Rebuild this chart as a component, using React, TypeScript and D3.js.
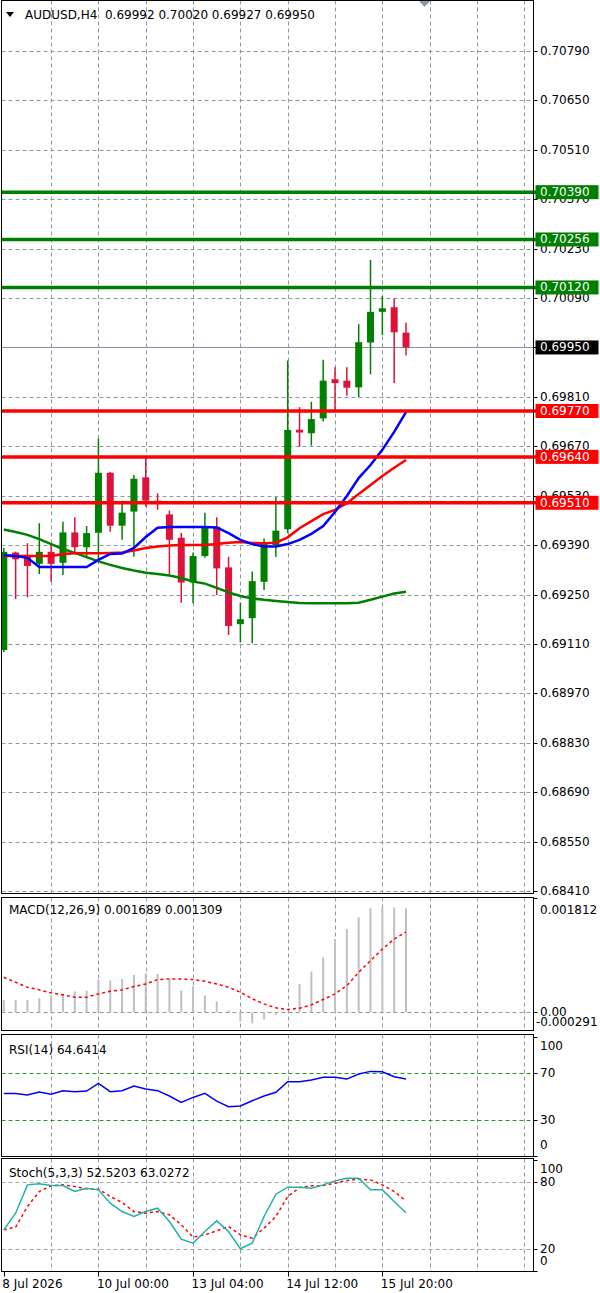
import React from "react";
import * as d3 from "d3";

// ---------- DATA ----------
const symbol = "AUDUSD,H4";
const headerOHLC = ["0.69992", "0.70020", "0.69927", "0.69950"];

const opens = [0.69093, 0.69369, 0.69359, 0.69337, 0.69371, 0.6934, 0.69426, 0.69384, 0.69425, 0.69595, 0.69445, 0.69485, 0.69582, 0.69516, 0.69477, 0.69411, 0.69284, 0.69359, 0.69442, 0.69327, 0.69166, 0.69183, 0.69286, 0.6939, 0.69435, 0.69717, 0.69707, 0.69749, 0.6986, 0.69856, 0.69837, 0.69964, 0.70051, 0.70064, 0.69992];
const highs = [0.69382, 0.69371, 0.69395, 0.69452, 0.6939, 0.69456, 0.69469, 0.69444, 0.69692, 0.69597, 0.69516, 0.69589, 0.69638, 0.69537, 0.69488, 0.69424, 0.69369, 0.69482, 0.69469, 0.69357, 0.69227, 0.69315, 0.69409, 0.69526, 0.69913, 0.69781, 0.69796, 0.69915, 0.69894, 0.69894, 0.70016, 0.70198, 0.70096, 0.70089, 0.7002];
const lows = [0.69087, 0.69237, 0.69242, 0.69308, 0.69286, 0.69305, 0.69367, 0.69353, 0.69348, 0.69428, 0.69405, 0.69357, 0.69499, 0.6949, 0.69303, 0.69227, 0.69225, 0.69354, 0.69249, 0.69135, 0.69114, 0.69112, 0.69263, 0.69356, 0.69424, 0.69669, 0.69672, 0.6974, 0.69771, 0.69813, 0.69809, 0.69874, 0.69985, 0.69849, 0.69927];
const closes = [0.69371, 0.6935, 0.69331, 0.69371, 0.69337, 0.69426, 0.69384, 0.69424, 0.69595, 0.69445, 0.69482, 0.69578, 0.69516, 0.69511, 0.69405, 0.69284, 0.69359, 0.69441, 0.69324, 0.69161, 0.6918, 0.69288, 0.69393, 0.69431, 0.69716, 0.69709, 0.69747, 0.69856, 0.69849, 0.69836, 0.69965, 0.70051, 0.70061, 0.69993, 0.6995];

const maBlue = [0.69362, 0.69359, 0.69354, 0.69328, 0.69328, 0.69328, 0.69328, 0.69328, 0.69348, 0.69365, 0.69366, 0.69382, 0.69413, 0.69439, 0.69441, 0.69441, 0.69441, 0.69441, 0.6944, 0.69424, 0.69405, 0.69393, 0.69386, 0.69386, 0.69393, 0.69405, 0.69422, 0.69444, 0.69484, 0.69529, 0.6958, 0.69617, 0.6966, 0.69711, 0.69767];
const maRed = [0.69359, 0.69359, 0.69359, 0.69359, 0.69359, 0.69365, 0.69367, 0.69367, 0.69367, 0.69368, 0.69369, 0.69375, 0.69382, 0.69386, 0.69389, 0.6939, 0.6939, 0.6939, 0.69393, 0.69397, 0.69399, 0.69396, 0.69395, 0.69397, 0.69412, 0.69438, 0.69458, 0.69478, 0.6949, 0.69509, 0.69535, 0.6956, 0.69586, 0.69609, 0.69631];
const maGreen = [0.69434, 0.69427, 0.69419, 0.69407, 0.69393, 0.69379, 0.69368, 0.69356, 0.69344, 0.69334, 0.69325, 0.69318, 0.69312, 0.69308, 0.69304, 0.69297, 0.69287, 0.69281, 0.69269, 0.69256, 0.69246, 0.69239, 0.69235, 0.69232, 0.69229, 0.69226, 0.69225, 0.69225, 0.69225, 0.69225, 0.69227, 0.69235, 0.69244, 0.69253, 0.69258];

const greenLevels = [0.7039, 0.70256, 0.7012];
const redLevels = [0.6977, 0.6964, 0.6951];
const lastPrice = 0.6995;
const priceTicks = [0.7079, 0.7065, 0.7051, 0.7037, 0.7023, 0.7009, 0.6995, 0.6981, 0.6967, 0.6953, 0.6939, 0.6925, 0.6911, 0.6897, 0.6883, 0.6869, 0.6855, 0.6841];

const macdTitle = "MACD(12,26,9) 0.001689 0.001309";
const macdHist = [0.0002, 0.0002, 0.0002, 0.000227, 0.000271, 0.000298, 0.000336, 0.000347, 0.000531, 0.000514, 0.000541, 0.000606, 0.000633, 0.000623, 0.000531, 0.000352, 0.000422, 0.000271, 0.000173, 0.000027, -0.000152, -0.000179, -0.000119, -0.000043, -0.000011, 0.00046, 0.000661, 0.000893, 0.001191, 0.001354, 0.001543, 0.001695, 0.001705, 0.001705, 0.001689];
const macdSignal = [0.000568, 0.000487, 0.000406, 0.000363, 0.000314, 0.000282, 0.000244, 0.000244, 0.000298, 0.000341, 0.000363, 0.000417, 0.00046, 0.000531, 0.000541, 0.000541, 0.000531, 0.000504, 0.00046, 0.000406, 0.000325, 0.000217, 0.000135, 0.00007, 0.000043, 0.000065, 0.000119, 0.000206, 0.000298, 0.000433, 0.00065, 0.000839, 0.001029, 0.001191, 0.001309];
const macdMax = 0.001812;
const macdMin = -0.000291;

const rsiTitle = "RSI(14) 64.6414";
const rsiValues = [52.5, 52.5, 51.1, 53.7, 51.7, 54.8, 53.9, 54.5, 61.0, 53.9, 54.8, 58.7, 56.2, 54.8, 50.3, 44.9, 49.1, 52.5, 46.0, 41.3, 41.8, 46.3, 50.3, 53.4, 62.4, 62.4, 63.8, 66.1, 66.1, 64.6, 68.9, 71.1, 70.8, 66.6, 64.64];
const rsiLevels = [70, 30];
const rsiLabels = [100, 70, 30, 0];

const stochTitle = "Stoch(5,3,3) 52.5203 63.0272";
const stochMain = [37.1, 52.1, 77.6, 78.5, 77.0, 77.0, 71.6, 74.6, 73.1, 61.1, 53.6, 49.1, 53.6, 56.6, 44.6, 28.7, 25.1, 35.6, 45.2, 35.6, 20.0, 25.1, 49.1, 69.2, 75.5, 75.5, 74.6, 77.6, 81.2, 83.6, 83.6, 73.1, 73.1, 62.6, 52.52];
const stochSignal = [37.1, 39.5, 58.1, 71.6, 76.7, 77.6, 76.1, 74.0, 73.7, 67.1, 61.7, 53.6, 52.1, 53.6, 50.6, 41.6, 30.5, 32.6, 36.2, 40.1, 32.6, 29.6, 38.6, 49.1, 67.1, 75.2, 76.7, 77.0, 79.1, 81.5, 82.7, 82.1, 77.6, 71.6, 63.03];
const stochLevels = [80, 20];
const stochLabels = [100, 80, 20, 0];

const dateLabels = ["8 Jul 2026", "10 Jul 00:00", "13 Jul 04:00", "14 Jul 12:00", "15 Jul 20:00"];
const dateBarIndex = [0, 8, 16, 24, 32];

// ---------- STYLE ----------
const FONT = "'DejaVu Sans', Verdana, sans-serif";
const FS = 12;
const GRID = "#8c9aa8";
const BULL = "#008000";
const BEAR = "#dc143c";

export default function App() {
  const L = 1.5;
  const R = 533.5;
  const main = { top: 0.5, bottom: 893.5 };
  const macdP = { top: 897.5, bottom: 1030.5 };
  const rsiP = { top: 1034.5, bottom: 1156.5 };
  const stoP = { top: 1158.5, bottom: 1271.5 };

  const n = closes.length;
  const x = d3.scaleLinear().domain([0, n - 1]).range([3.8, 406]);
  const y = d3.scaleLinear().domain([0.6841, 0.7079]).range([891, 51]);
  const yM = d3.scaleLinear().domain([macdMin, macdMax]).range([1030, 901]);
  const yR = d3.scaleLinear().domain([0, 100]).range([1155.5, 1037.2]);
  const yS = d3.scaleLinear().domain([0, 100]).range([1271, 1160]);

  const gridIdx = d3.range(4, 60, 4).filter((i) => x(i) < R - 2);
  const idx = d3.range(n);

  const lineOf = (sc: d3.ScaleLinear<number, number>) =>
    d3.line<number>().x((_, i) => x(i)).y((d) => sc(d));

  const vGrid = (p: { top: number; bottom: number }, key: string) =>
    gridIdx.map((i) => (
      <line key={key + i} x1={Math.round(x(i)) + 0.5} x2={Math.round(x(i)) + 0.5} y1={p.top} y2={p.bottom}
        stroke={GRID} strokeDasharray="4,3" strokeWidth={1} />
    ));

  const frame = (p: { top: number; bottom: number }, key: string) => (
    <rect key={key} x={L} y={p.top} width={R - L} height={p.bottom - p.top} fill="none" stroke="#000" strokeWidth={1} />
  );

  const fmt5 = d3.format(".5f");

  const levelBox = (v: number, color: string, key: string) => {
    const yy = y(v);
    return (
      <g key={key}>
        <line x1={L} x2={536} y1={yy} y2={yy} stroke={color} strokeWidth={3.5} />
        <rect x={535.5} y={yy - 7} width={63} height={14} fill={color} />
        <text x={540} y={yy} dominantBaseline="central" fill="#fff" fontSize={FS} fontFamily={FONT}>{fmt5(v)}</text>
      </g>
    );
  };

  return (
    <svg width={600} height={1293} style={{ position: "absolute", left: 0, top: 0, background: "#fff" }}>
      <defs>
        <clipPath id="clipMain"><rect x={L} y={main.top} width={R - L} height={main.bottom - main.top} /></clipPath>
        <clipPath id="clipMacd"><rect x={L} y={macdP.top} width={R - L} height={macdP.bottom - macdP.top} /></clipPath>
        <clipPath id="clipRsi"><rect x={L} y={rsiP.top} width={R - L} height={rsiP.bottom - rsiP.top} /></clipPath>
        <clipPath id="clipSto"><rect x={L} y={stoP.top} width={R - L} height={stoP.bottom - stoP.top} /></clipPath>
      </defs>

      {/* ===== MAIN PANEL ===== */}
      {vGrid(main, "mv")}
      {priceTicks.map((t) => (
        <line key={"hg" + t} x1={L} x2={R} y1={Math.round(y(t)) + 0.5} y2={Math.round(y(t)) + 0.5}
          stroke={GRID} strokeDasharray="4,3" strokeWidth={1} />
      ))}
      {priceTicks.map((t) => (
        <g key={"pt" + t}>
          <line x1={R} x2={R + 4} y1={Math.round(y(t)) + 0.5} y2={Math.round(y(t)) + 0.5} stroke="#000" />
          <text x={540} y={y(t)} dominantBaseline="central" fontSize={FS} fontFamily={FONT} fill="#000">{fmt5(t)}</text>
        </g>
      ))}

      {/* bid line */}
      <line x1={L} x2={R} y1={Math.round(y(lastPrice)) + 0.5} y2={Math.round(y(lastPrice)) + 0.5} stroke="#8493a3" strokeWidth={1} />

      <g clipPath="url(#clipMain)">
        {idx.map((i) => {
          const o = opens[i], c = closes[i];
          const col = c >= o ? BULL : BEAR;
          const top = y(Math.max(o, c));
          const h = Math.max(1.5, Math.abs(y(o) - y(c)));
          return (
            <g key={"c" + i}>
              <line x1={x(i)} x2={x(i)} y1={y(highs[i])} y2={y(lows[i])} stroke={col} strokeWidth={1.5} />
              <rect x={x(i) - 3.5} y={top} width={7} height={h} fill={col} />
            </g>
          );
        })}
        <path d={lineOf(y)(maGreen) || ""} fill="none" stroke="#008000" strokeWidth={2.5} />
        <path d={lineOf(y)(maRed) || ""} fill="none" stroke="#ff0000" strokeWidth={2.5} />
        <path d={lineOf(y)(maBlue) || ""} fill="none" stroke="#0000ff" strokeWidth={2.5} />
      </g>

      {greenLevels.map((v) => levelBox(v, "#008000", "gl" + v))}
      {redLevels.map((v) => levelBox(v, "#ff0000", "rl" + v))}

      {/* last price box */}
      <rect x={535.5} y={y(lastPrice) - 7} width={63} height={14} fill="#000" />
      <text x={540} y={y(lastPrice)} dominantBaseline="central" fill="#fff" fontSize={FS} fontFamily={FONT}>{fmt5(lastPrice)}</text>

      {/* header */}
      <path d="M6,12 L14,12 L10,17 Z" fill="#000" />
      <text x={25} y={15} dominantBaseline="central" fontSize={FS} fontFamily={FONT} fill="#000" style={{ whiteSpace: "pre" }}>
        {symbol + "  " + headerOHLC.join(" ")}
      </text>
      <path d="M418,0 L431,0 L424.5,7 Z" fill="#8c9aa8" />

      {frame(main, "fm")}

      {/* ===== MACD ===== */}
      {vGrid(macdP, "macv")}
      <line x1={L} x2={R} y1={Math.round(yM(0)) + 0.5} y2={Math.round(yM(0)) + 0.5} stroke={GRID} strokeDasharray="4,3" />
      <g clipPath="url(#clipMacd)">
        {macdHist.map((v, i) => (
          <line key={"mh" + i} x1={x(i)} x2={x(i)} y1={yM(0)} y2={yM(v)} stroke="#c0c0c0" strokeWidth={2} />
        ))}
        <path d={lineOf(yM)(macdSignal) || ""} fill="none" stroke="#ff0000" strokeWidth={1.5} strokeDasharray="3,3" />
      </g>
      <text x={9} y={910} dominantBaseline="central" fontSize={FS} fontFamily={FONT} fill="#000">{macdTitle}</text>
      <text x={540} y={910} dominantBaseline="central" fontSize={FS} fontFamily={FONT} fill="#000">{macdMax.toFixed(6)}</text>
      <text x={540} y={yM(0)} dominantBaseline="central" fontSize={FS} fontFamily={FONT} fill="#000">0.00</text>
      <text x={536} y={1022} dominantBaseline="central" fontSize={FS} fontFamily={FONT} fill="#000">{macdMin.toFixed(6)}</text>
      <line x1={R} x2={R + 4} y1={macdP.top + 1} y2={macdP.top + 1} stroke="#000" />
      <line x1={R} x2={R + 4} y1={Math.round(yM(0)) + 0.5} y2={Math.round(yM(0)) + 0.5} stroke="#000" />
      {frame(macdP, "fmacd")}

      {/* ===== RSI ===== */}
      {vGrid(rsiP, "rv")}
      {rsiLevels.map((lv) => (
        <line key={"rl" + lv} x1={L} x2={R} y1={Math.round(yR(lv)) + 0.5} y2={Math.round(yR(lv)) + 0.5}
          stroke="#1f9a1f" strokeDasharray="4,3" strokeWidth={1} />
      ))}
      <g clipPath="url(#clipRsi)">
        <path d={lineOf(yR)(rsiValues) || ""} fill="none" stroke="#0000ff" strokeWidth={1.5} />
      </g>
      <text x={9} y={1050} dominantBaseline="central" fontSize={FS} fontFamily={FONT} fill="#000">{rsiTitle}</text>
      {rsiLabels.map((lv) => {
        const yy = lv === 100 ? 1046 : lv === 0 ? 1145 : yR(lv);
        return (
          <g key={"rlab" + lv}>
            <line x1={R} x2={R + 4} y1={Math.round(yR(lv)) + 0.5} y2={Math.round(yR(lv)) + 0.5} stroke="#000" />
            <text x={540} y={yy} dominantBaseline="central" fontSize={FS} fontFamily={FONT} fill="#000">{lv}</text>
          </g>
        );
      })}
      {frame(rsiP, "frsi")}

      {/* ===== STOCH ===== */}
      {vGrid(stoP, "sv")}
      {stochLevels.map((lv) => (
        <line key={"sl" + lv} x1={L} x2={R} y1={Math.round(yS(lv)) + 0.5} y2={Math.round(yS(lv)) + 0.5}
          stroke="#a8a8a8" strokeDasharray="4,3" strokeWidth={1} />
      ))}
      <g clipPath="url(#clipSto)">
        <path d={lineOf(yS)(stochSignal) || ""} fill="none" stroke="#ff0000" strokeWidth={1.5} strokeDasharray="3,3" />
        <path d={lineOf(yS)(stochMain) || ""} fill="none" stroke="#20b2aa" strokeWidth={1.5} />
      </g>
      <text x={9} y={1173} dominantBaseline="central" fontSize={FS} fontFamily={FONT} fill="#000">{stochTitle}</text>
      {stochLabels.map((lv) => {
        const yy = lv === 100 ? 1169 : lv === 0 ? 1261 : yS(lv);
        return (
          <g key={"slab" + lv}>
            <line x1={R} x2={R + 4} y1={Math.round(yS(lv)) + 0.5} y2={Math.round(yS(lv)) + 0.5} stroke="#000" />
            <text x={540} y={yy} dominantBaseline="central" fontSize={FS} fontFamily={FONT} fill="#000">{lv}</text>
          </g>
        );
      })}
      {frame(stoP, "fsto")}

      {/* ===== TIME AXIS ===== */}
      {dateLabels.map((lab, k) => {
        const xi = x(dateBarIndex[k]);
        return (
          <g key={"d" + k}>
            <line x1={Math.round(xi) + 0.5} x2={Math.round(xi) + 0.5} y1={stoP.bottom} y2={stoP.bottom + 5} stroke="#000" />
            <text x={xi - 1.5} y={1284} dominantBaseline="central" fontSize={FS} fontFamily={FONT} fill="#000">{lab}</text>
          </g>
        );
      })}
    </svg>
  );
}
